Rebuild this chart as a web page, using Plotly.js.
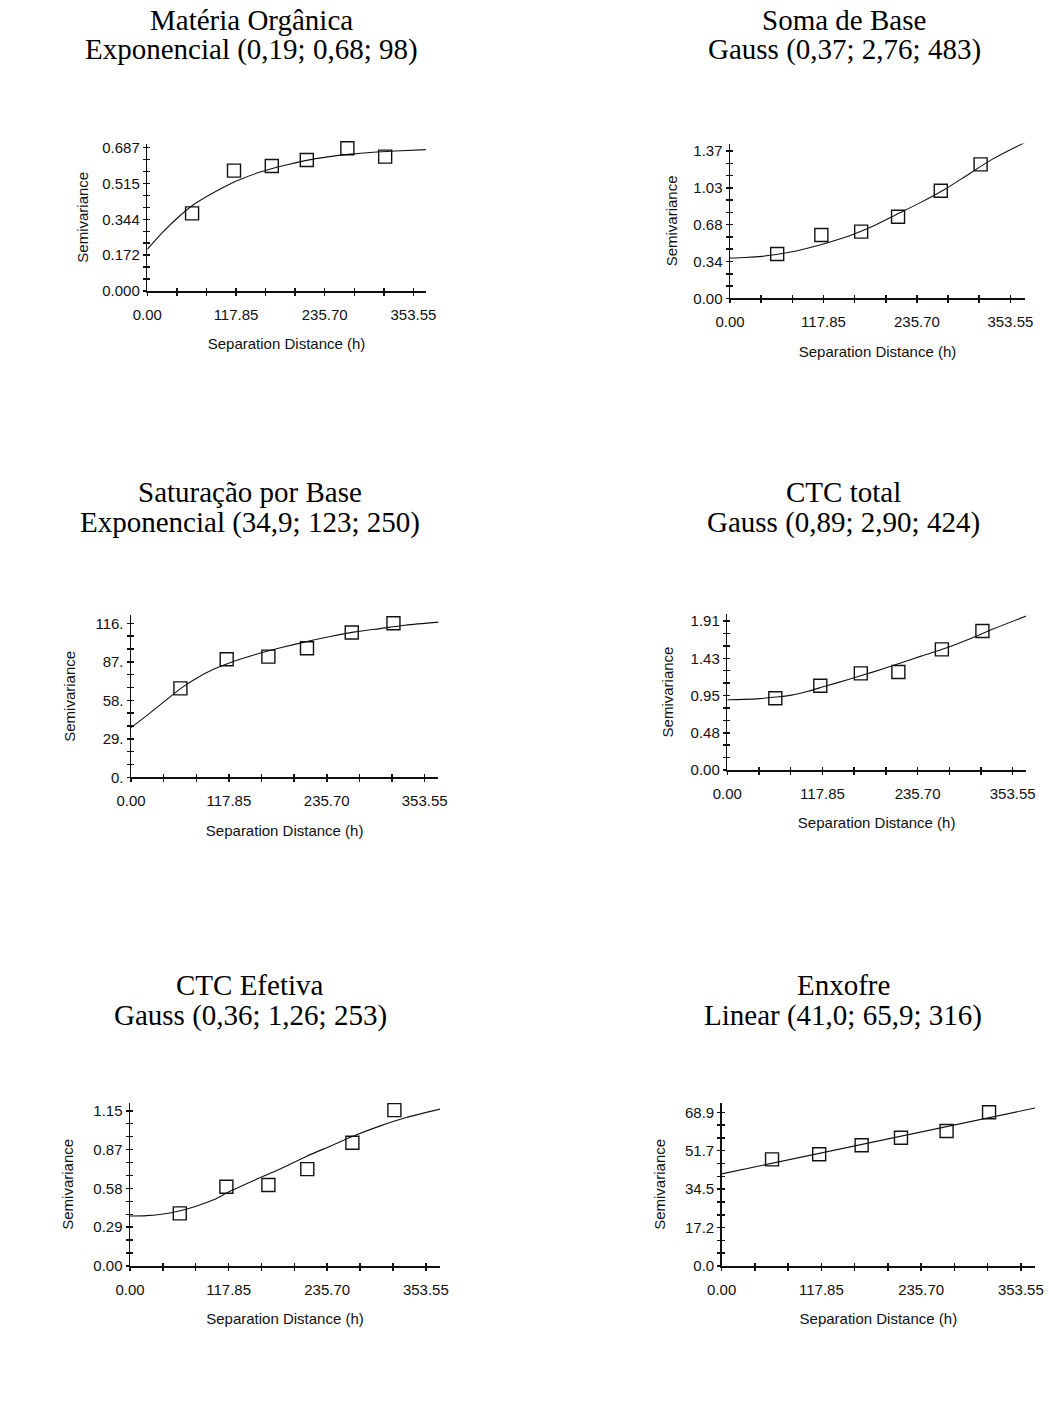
<!DOCTYPE html>
<html>
<head>
<meta charset="utf-8">
<script src="https://cdn.plot.ly/plotly-3.0.1.min.js"></script>
<style>
  html, body { margin: 0; padding: 0; background: #ffffff; }
  #chart { width: 1049px; height: 1411px; }
</style>
</head>
<body>
<div id="chart"></div>
<script>
// Lag distances (h) of the experimental semivariogram points
const lagDistance = [59.5, 115.2, 165.4, 211.9, 265.8, 316.0];

// Experimental semivariance for each soil attribute
const materiaOrganica = [0.372, 0.577, 0.599, 0.628, 0.684, 0.644];
const somaDeBase      = [0.412, 0.589, 0.620, 0.759, 1.001, 1.246];
const saturacaoBase   = [67.0, 88.9, 90.9, 97.2, 109.0, 116.0];
const ctcTotal        = [0.919, 1.081, 1.239, 1.256, 1.547, 1.782];
const ctcEfetiva      = [0.390, 0.587, 0.600, 0.718, 0.913, 1.155];
const enxofre         = [47.8, 50.1, 54.1, 57.5, 60.5, 68.9];

// Fitted model curves, sampled along h
const modelDistance = [0, 20, 40, 60, 80, 100, 120, 150, 180, 210, 240, 270, 300, 330, 372];
const modelMateriaOrganica = [0.200, 0.280, 0.350, 0.410, 0.455, 0.495, 0.530, 0.570, 0.600, 0.625, 0.643, 0.656, 0.665, 0.671, 0.678];
const modelSomaDeBase      = [0.375, 0.380, 0.390, 0.410, 0.435, 0.470, 0.510, 0.580, 0.670, 0.780, 0.890, 1.010, 1.150, 1.290, 1.450];
const modelSaturacaoBase   = [37.4, 47.0, 57.0, 67.0, 75.0, 81.5, 86.5, 92.5, 97.5, 102.0, 106.0, 109.5, 112.0, 114.5, 116.9];
const modelCtcTotal        = [0.900, 0.905, 0.915, 0.935, 0.960, 1.010, 1.070, 1.160, 1.255, 1.355, 1.460, 1.560, 1.680, 1.810, 1.980];
const modelCtcEfetiva      = [0.370, 0.373, 0.385, 0.410, 0.445, 0.490, 0.555, 0.640, 0.720, 0.810, 0.890, 0.970, 1.040, 1.100, 1.165];
const enxofreModelDistance = [0, 370.3];
const modelEnxofre         = [41.3, 70.8];

// Panel headings: attribute and fitted model (nugget; sill; range)
const panelNames  = ['Matéria Orgânica', 'Soma de Base', 'Saturação por Base', 'CTC total', 'CTC Efetiva', 'Enxofre'];
const modelLabels = ['Exponencial (0,19; 0,68; 98)', 'Gauss (0,37; 2,76; 483)', 'Exponencial (34,9; 123; 250)',
                     'Gauss (0,89; 2,90; 424)', 'Gauss (0,36; 1,26; 253)', 'Linear (41,0; 65,9; 316)'];

// Axis ticks
const xTickStep   = 39.2833;
const xTickLabels = ['0.00', '117.85', '235.70', '353.55'];
const yTopValue   = [0.687, 1.37, 116, 1.91, 1.15, 68.9];
const yTickLabels = [
  ['0.000', '0.172', '0.344', '0.515', '0.687'],
  ['0.00', '0.34', '0.68', '1.03', '1.37'],
  ['0.', '29.', '58.', '87.', '116.'],
  ['0.00', '0.48', '0.95', '1.43', '1.91'],
  ['0.00', '0.29', '0.58', '0.87', '1.15'],
  ['0.0', '17.2', '34.5', '51.7', '68.9']
];

const series = [
  { pts: materiaOrganica, cx: modelDistance, cy: modelMateriaOrganica },
  { pts: somaDeBase,      cx: modelDistance, cy: modelSomaDeBase },
  { pts: saturacaoBase,   cx: modelDistance, cy: modelSaturacaoBase },
  { pts: ctcTotal,        cx: modelDistance, cy: modelCtcTotal },
  { pts: ctcEfetiva,      cx: modelDistance, cy: modelCtcEfetiva },
  { pts: enxofre,         cx: enxofreModelDistance, cy: modelEnxofre }
];

// Page geometry (pixels) of each plot frame: left, right, top, bottom, axis maxima,
// plus the gap between tick labels and the y-axis title
const W = 1049, H = 1411;
const frames = [
  { l: 147.3, r: 425.8,  t: 143.5, b: 291.0,  xMax: 370.0, yMax: 0.707, yTitleGap: 10 },
  { l: 730.0, r: 1025.0, t: 143.5, b: 298.3,  xMax: 372.0, yMax: 1.44,  yTitleGap: 12 },
  { l: 131.0, r: 438.3,  t: 615.3, b: 777.3,  xMax: 370.0, yMax: 122.0, yTitleGap: 16 },
  { l: 727.3, r: 1026.0, t: 614.0, b: 770.0,  xMax: 370.0, yMax: 2.0,   yTitleGap: 13 },
  { l: 130.0, r: 440.0,  t: 1102.7, b: 1266.0, xMax: 370.5, yMax: 1.21, yTitleGap: 16 },
  { l: 721.7, r: 1035.0, t: 1102.7, b: 1266.0, xMax: 370.3, yMax: 73.2, yTitleGap: 15 }
];
// Heading centres and baselines per panel
const headingX = [251, 844, 250, 843, 250, 843];
const headingRowY = [28, 500, 993];

const sansFont  = 'Liberation Sans, Arial, sans-serif';
const serifFont = 'Liberation Serif, Times New Roman, serif';
const ink = '#111111';

const traces = [];
const layout = {
  width: W, height: H,
  margin: { l: 0, r: 0, t: 0, b: 0 },
  paper_bgcolor: '#ffffff',
  plot_bgcolor: 'rgba(0,0,0,0)',
  showlegend: false,
  font: { family: sansFont, size: 15, color: ink },
  annotations: []
};

const xTickVals = [], xTickText = [];
for (let k = 0; k <= 9; k++) {
  xTickVals.push(k * xTickStep);
  xTickText.push(k % 3 === 0 ? xTickLabels[k / 3] : '');
}

frames.forEach((f, i) => {
  const n = i + 1, m = i + 7;
  const xDom = [f.l / W, f.r / W];
  const yDom = [1 - f.b / H, 1 - f.t / H];

  const yTickVals = [], yTickText = [];
  for (let k = 0; k <= 12; k++) {
    yTickVals.push(k * yTopValue[i] / 12);
    yTickText.push(k % 3 === 0 ? yTickLabels[i][k / 3] : '');
  }

  const baseX = {
    domain: xDom, range: [0, f.xMax], anchor: 'y' + n,
    showgrid: false, zeroline: false, fixedrange: true,
    showline: true, linecolor: ink, linewidth: 1.5,
    ticks: 'outside', ticklen: 3, tickwidth: 1.5, tickcolor: ink,
    tickmode: 'array', tickvals: xTickVals, ticktext: xTickText,
    ticklabelstandoff: 6,
    tickfont: { family: sansFont, size: 15, color: ink },
    title: { text: 'Separation Distance (h)', standoff: 17, font: { family: sansFont, size: 15, color: ink } }
  };
  const baseY = {
    domain: yDom, range: [0, f.yMax], anchor: 'x' + n,
    showgrid: false, zeroline: false, fixedrange: true,
    showline: true, linecolor: ink, linewidth: 1.5,
    ticks: 'outside', ticklen: 3, tickwidth: 1.5, tickcolor: ink,
    tickmode: 'array', tickvals: yTickVals, ticktext: yTickText,
    tickfont: { family: sansFont, size: 15, color: ink },
    title: { text: 'Semivariance', standoff: f.yTitleGap, font: { family: sansFont, size: 15, color: ink } }
  };
  // Companion axes give the ticks their inner half, so every tick crosses the axis line
  const innerX = {
    overlaying: 'x' + n, anchor: 'y' + m, range: [0, f.xMax],
    showgrid: false, zeroline: false, showline: false, fixedrange: true,
    ticks: 'inside', ticklen: 3, tickwidth: 1.5, tickcolor: ink,
    tickmode: 'array', tickvals: xTickVals, showticklabels: false
  };
  const innerY = {
    overlaying: 'y' + n, anchor: 'x' + m, range: [0, f.yMax],
    showgrid: false, zeroline: false, showline: false, fixedrange: true,
    ticks: 'inside', ticklen: 3, tickwidth: 1.5, tickcolor: ink,
    tickmode: 'array', tickvals: yTickVals, showticklabels: false
  };
  layout['xaxis' + (n === 1 ? '' : n)] = baseX;
  layout['yaxis' + (n === 1 ? '' : n)] = baseY;
  layout['xaxis' + m] = innerX;
  layout['yaxis' + m] = innerY;

  const s = series[i];
  traces.push({
    type: 'scatter', mode: 'lines',
    x: s.cx, y: s.cy,
    xaxis: 'x' + m, yaxis: 'y' + m,
    line: { color: ink, width: 1.1, shape: 'spline', smoothing: 0.8 },
    hoverinfo: 'skip'
  });
  traces.push({
    type: 'scatter', mode: 'markers',
    x: lagDistance, y: s.pts,
    xaxis: 'x' + n, yaxis: 'y' + n,
    cliponaxis: false,
    marker: { symbol: 'square-open', size: 13, color: ink, line: { width: 1.4, color: ink } }
  });

  const row = Math.floor(i / 2);
  [panelNames[i], modelLabels[i]].forEach((txt, li) => {
    layout.annotations.push({
      text: txt, xref: 'paper', yref: 'paper',
      x: headingX[i] / W, y: 1 - (headingRowY[row] + li * 30 - 8) / H,
      xanchor: 'center', yanchor: 'middle', showarrow: false,
      font: { family: serifFont, size: 29, color: '#000000' }
    });
  });
});

Plotly.newPlot('chart', traces, layout, { staticPlot: true, displayModeBar: false });
</script>
</body>
</html>
